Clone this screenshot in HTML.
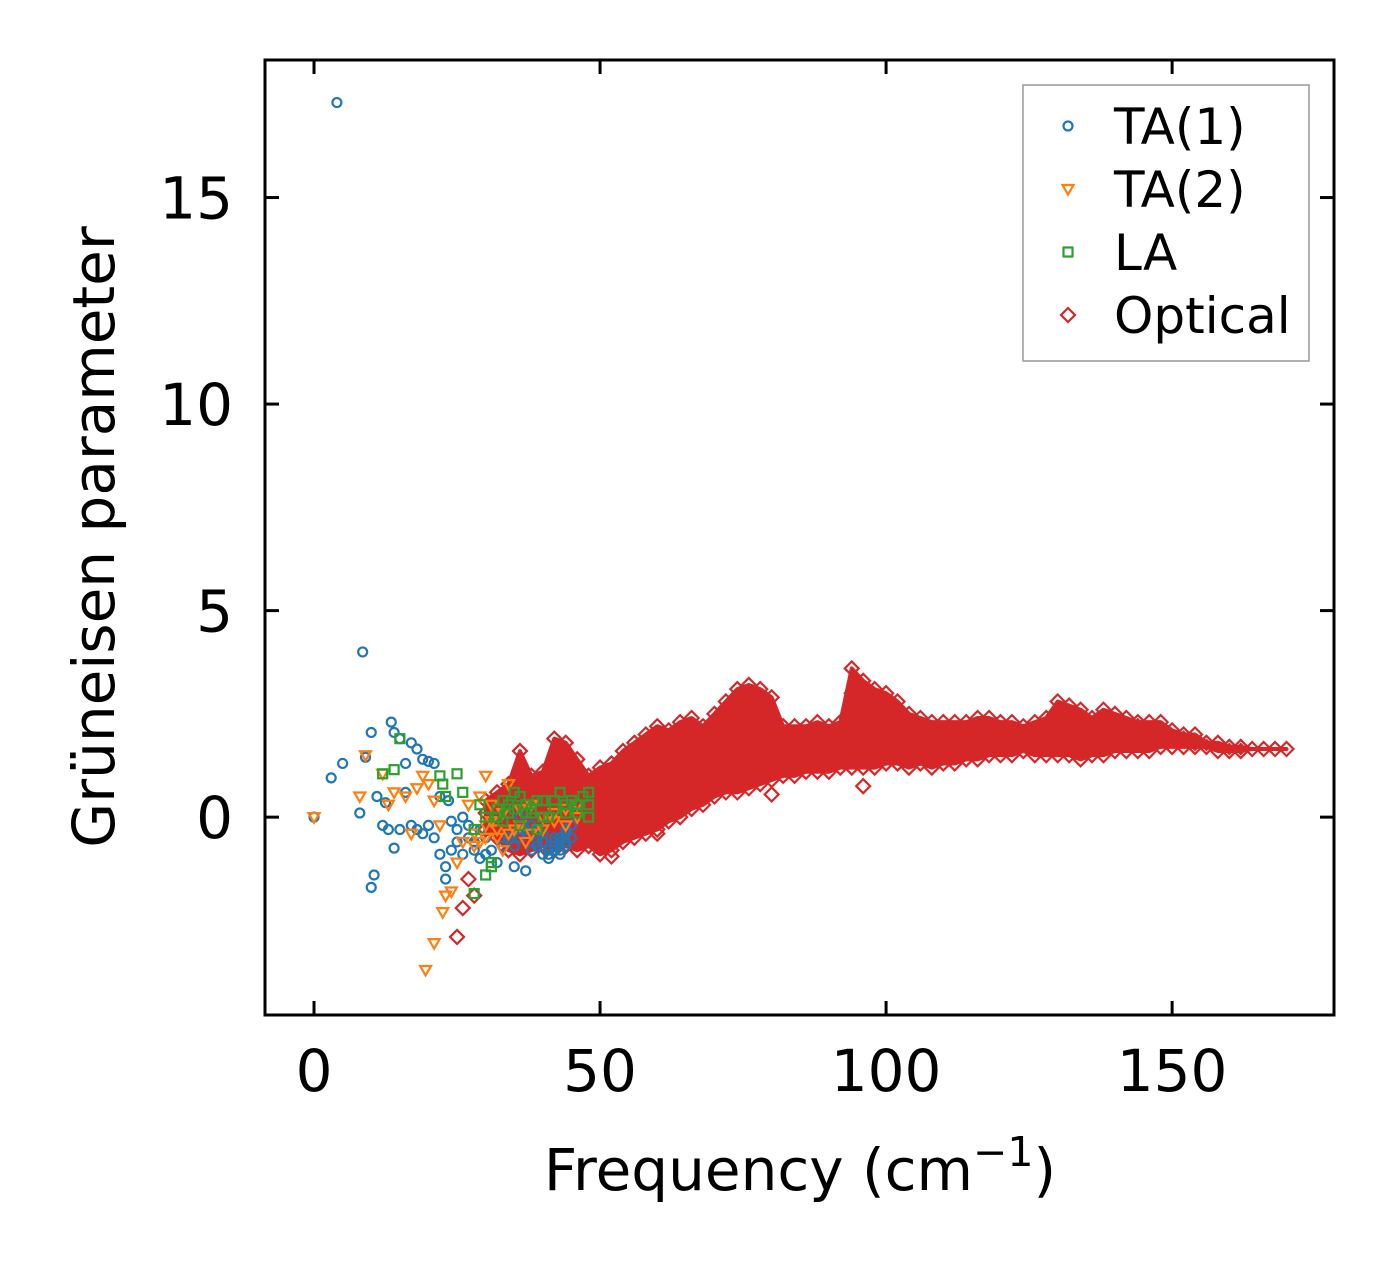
<!DOCTYPE html>
<html><head><meta charset="utf-8"><style>
html,body{margin:0;padding:0;background:#fff;}
svg{display:block;font-family:"DejaVu Sans","Liberation Sans",sans-serif;}
</style></head><body>
<svg id="chart" width="1394" height="1264" viewBox="0 0 1394 1264" xmlns="http://www.w3.org/2000/svg"></svg>
<script>
const xTicks=[0,50,100,150];
const yTicks=[0,5,10,15];
const ta1Freq=[0,4,3,5,8,8.5,9,10,10,10.5,11,12,12.5,13,13.5,14,14,15,15,16,16,17,17,18,18,19,19,20,20,21,21,22,22,23,23,23.5,24,24,25,25,26,26,27,28,29,30,32,33,34,35,36,37,38,39,40,40,41,42,42,43,43,44,44,45,36,38,27,28,29,30,31,39,40,41,42,43,44,41,42,43,44,45,34,35,36,37];
const ta1Gamma=[0,17.3,0.95,1.3,0.1,4.0,1.45,2.05,-1.7,-1.4,0.5,-0.2,0.35,-0.3,2.3,2.05,-0.75,1.9,-0.3,1.3,0.6,1.8,-0.2,1.65,-0.3,1.4,-0.4,1.35,-0.2,1.3,-0.5,0.5,-0.9,-1.2,-1.5,0.4,-0.1,-0.8,-0.3,-0.6,0,-0.9,-0.5,-0.8,-1.0,-0.9,-1.1,-0.7,-0.5,-1.2,-0.3,-1.3,-0.8,-0.6,-0.9,-0.4,-1.0,-0.8,-0.5,-0.6,-0.9,-0.3,-0.7,-0.2,0,-0.2,-0.2,-0.6,-0.3,-0.5,-0.8,-0.7,-0.6,-0.8,-0.7,-0.5,-0.4,-0.9,-0.6,-0.8,-0.6,-0.5,-0.4,-0.7,-0.5,-0.3];
const ta2Freq=[0,8,9,12,13,14,16,17,18,19,19.5,20,21,21,22,22.5,23,24,25,26,27,28,29,30,30,31,32,33,34,35,36,38,40,42,44,46,29,31,28,30,32,34,36,38,40,42,44,46,33,37];
const ta2Gamma=[0,0.5,1.5,1.05,0.3,0.6,0.5,-0.4,0.7,1.0,-3.7,0.8,-3.05,0.4,-0.2,-2.3,-1.9,-1.8,-1.1,-0.6,0.3,-0.4,0.5,1.0,-0.2,0.3,-0.5,0.1,0.8,-0.3,0.2,0.3,0,0.1,0.2,0.3,-0.6,-0.1,-0.7,-0.5,-0.3,-0.4,-0.2,-0.4,-0.3,-0.1,-0.2,0,-0.8,-0.6];
const laFreq=[12,14,15,22,22.5,23,25,26,28,28,29,30,30,31,32,33,34,35,36,37,38,40,41,42,43,44,45,46,47,48,48,39,32,34,36,38,40,42,44,46,48,31,33,35,37,39];
const laGamma=[1.05,1.15,1.9,1.0,0.8,0.5,1.05,0.6,-1.85,-0.3,0.3,-1.4,0,-1.2,0.2,0.4,0.1,0.6,-0.2,0.3,0.1,0.4,0,0.2,0.6,0.3,0.4,0.1,0.5,0.6,0,-0.3,0,0.3,0.5,0.2,0,0.4,0.1,0.3,0.3,-1.1,-0.1,0.2,0.1,0.4];
const opticalFreq=[30,32,34,36,38,40,42,44,46,48,50,52,54,56,58,60,62,64,66,68,70,72,74,76,78,80,82,84,86,88,90,92,94,96,98,100,102,104,106,108,110,112,114,116,118,120,122,124,126,128,130,132,134,136,138,140,142,144,146,148,150,152,154,156,158,160,162,164,166,168,170];
const opticalGamma=[[-0.3,0.1,0.4],[-0.5,0,0.6],[-0.8,-0.2,0.3,0.8],[-0.9,-0.3,0.3,0.9,1.6],[-0.8,-0.2,0.4,1.0],[-0.7,-0.1,0.5,1.1],[-0.8,-0.2,0.4,1.0,1.9],[-0.7,-0.1,0.5,1.1,1.8],[-0.8,-0.2,0.3,0.9,1.4],[-0.7,-0.1,0.5,1.0],[-0.9,-0.3,0.2,0.7,1.2],[-0.8,-0.2,0.3,0.8,1.3],[-0.6,0,0.5,1.0,1.6],[-0.5,0.1,0.6,1.1,1.8],[-0.4,0.2,0.7,1.2,2.0],[-0.3,0.3,0.8,1.4,2.2],[-0.1,0.4,0.9,1.5,2.1],[0,0.5,1.0,1.6,2.3],[0.2,0.7,1.2,1.8,2.4],[0.3,0.8,1.3,1.9,2.2],[0.5,1.0,1.5,2.0,2.5],[0.6,1.1,1.6,2.2,2.8],[0.6,1.1,1.7,2.4,3.1],[0.7,1.2,1.8,2.5,3.2],[0.8,1.3,1.9,2.5,3.1],[0.9,1.4,1.9,2.3,2.9],[1.0,1.4,1.8,2.2],[1.0,1.5,1.9,2.2],[1.1,1.5,1.9,2.2],[1.1,1.5,1.9,2.3],[1.1,1.5,1.9,2.2],[1.2,1.6,2.0,2.3],[1.2,1.6,2.0,2.5,3.0,3.6],[1.2,1.6,2.0,2.6,3.3],[1.2,1.6,2.0,2.5,3.1],[1.3,1.7,2.1,2.5,3.0],[1.3,1.7,2.1,2.8],[1.2,1.6,2.0,2.5],[1.3,1.7,2.1,2.4],[1.2,1.6,2.0,2.3],[1.3,1.7,2.1,2.3],[1.3,1.7,2.0,2.3],[1.4,1.8,2.1,2.3],[1.4,1.8,2.1,2.4],[1.5,1.8,2.1,2.4],[1.5,1.8,2.1,2.3],[1.5,1.8,2.1,2.3],[1.6,1.8,2.0,2.2],[1.5,1.8,2.1,2.3],[1.5,1.8,2.1,2.4],[1.5,1.8,2.1,2.5,2.8],[1.5,1.8,2.1,2.4,2.7],[1.4,1.8,2.1,2.4,2.6],[1.5,1.8,2.1,2.4],[1.5,1.8,2.1,2.4,2.6],[1.6,1.9,2.2,2.5],[1.6,1.9,2.2,2.4],[1.6,1.9,2.2,2.3],[1.6,1.9,2.1,2.3],[1.7,1.9,2.1,2.3],[1.7,1.9,2.1],[1.7,1.9,2.0],[1.7,1.8,2.0],[1.7,1.8],[1.6,1.8],[1.6,1.7],[1.6,1.7],[1.65],[1.65],[1.65],[1.65]];
const opticalOutFreq=[25,26,27,28,96,80,60,52];
const opticalOutGamma=[-2.9,-2.2,-1.5,-1.9,0.75,0.55,-0.4,-0.95];

const NS='http://www.w3.org/2000/svg';
const svg=document.getElementById('chart');
const L=265,R=1334,T=60,B=1015;
const xMin=-8.57,xMax=178.3,yMin=-4.79,yMax=18.33;
const sx=v=>L+(v-xMin)/(xMax-xMin)*(R-L);
const sy=v=>B-(v-yMin)/(yMax-yMin)*(B-T);
function mk(tag,attrs,parent){const e=document.createElementNS(NS,tag);for(const k in attrs)e.setAttribute(k,attrs[k]);(parent||svg).appendChild(e);return e;}
function marker(kind,x,y,color,g){
  let e;
  if(kind==='circle')e=mk('circle',{cx:x,cy:y,r:4.5,fill:'none',stroke:color,'stroke-width':2.2},g);
  else if(kind==='tri')e=mk('polygon',{points:`${x-5.5},${y-4} ${x+5.5},${y-4} ${x},${y+5.5}`,fill:'none',stroke:color,'stroke-width':2.2},g);
  else if(kind==='sq')e=mk('rect',{x:x-4.5,y:y-4.5,width:9,height:9,fill:'none',stroke:color,'stroke-width':2.2},g);
  else e=mk('polygon',{points:`${x},${y-7} ${x+7},${y} ${x},${y+7} ${x-7},${y}`,fill:'none',stroke:color,'stroke-width':2.2},g);
  return e;
}
const clipEl=mk('clipPath',{id:'plotclip'});mk('rect',{x:L,y:T,width:R-L,height:B-T},clipEl);

function series(name,kind,color,xs,ys){
  const g=mk('g',{'clip-path':'url(#plotclip)'});
  
  
  for(let i=0;i<xs.length;i++){
    const m=marker(kind,sx(xs[i]),sy(ys[i]),color,g);
    
    
  }
}

const og=mk('g',{'clip-path':'url(#plotclip)'});


const envTop=[],envBot=[];
for(let i=0;i<opticalFreq.length;i++){
  const ys=opticalGamma[i];
  envTop.push(sx(opticalFreq[i])+','+sy(Math.max(...ys)));
  envBot.unshift(sx(opticalFreq[i])+','+sy(Math.min(...ys)));
}
const band=mk('polygon',{points:envTop.concat(envBot).join(' '),fill:'#d62728',stroke:'#d62728','stroke-width':4,'stroke-linejoin':'round'},og);


for(let i=0;i<opticalFreq.length;i++){
  for(const y of opticalGamma[i]){
    const m=marker('dia',sx(opticalFreq[i]),sy(y),'#d62728',og);
    
    
  }
}
for(let i=0;i<opticalOutFreq.length;i++){
  const m=marker('dia',sx(opticalOutFreq[i]),sy(opticalOutGamma[i]),'#d62728',og);
  
  
}

series('ta1-series','circle','#1f77b4',ta1Freq,ta1Gamma);
series('ta2-series','tri','#ff7f0e',ta2Freq,ta2Gamma);
series('la-series','sq','#2ca02c',laFreq,laGamma);

const frame=mk('rect',{x:L,y:T,width:R-L,height:B-T,fill:'none',stroke:'#000','stroke-width':3});


for(const t of xTicks){
  const x=sx(t);
  mk('line',{x1:x,y1:B,x2:x,y2:B-14,stroke:'#000','stroke-width':3});
  mk('line',{x1:x,y1:T,x2:x,y2:T+14,stroke:'#000','stroke-width':3});
  const tx=mk('text',{x:x,y:B+76,'font-size':58,'text-anchor':'middle',fill:'#000'});
  tx.textContent=t;
  
  
}
for(const t of yTicks){
  const y=sy(t);
  mk('line',{x1:L,y1:y,x2:L+14,y2:y,stroke:'#000','stroke-width':3});
  mk('line',{x1:R,y1:y,x2:R-14,y2:y,stroke:'#000','stroke-width':3});
  const tx=mk('text',{x:L-32,y:y+21,'font-size':58,'text-anchor':'end',fill:'#000'});
  tx.textContent=t;
  
  
}
const xl=mk('text',{x:800,y:1190,'font-size':58,'text-anchor':'middle',fill:'#000'});
const t1=mk('tspan',{},xl);t1.textContent='Frequency (cm';
const t2=mk('tspan',{dy:-24,'font-size':41},xl);t2.textContent='−1';
const t3=mk('tspan',{dy:24},xl);t3.textContent=')';


const yl=mk('text',{x:0,y:0,'font-size':58,'text-anchor':'middle',fill:'#000',transform:'translate(114,537) rotate(-90)'});
yl.textContent='Grüneisen parameter';



const lg=mk('g',{});


mk('rect',{x:1023,y:85,width:286,height:276,fill:'#fff',stroke:'#999','stroke-width':1.5},lg);
const entries=[['TA(1)','circle','#1f77b4'],['TA(2)','tri','#ff7f0e'],['LA','sq','#2ca02c'],['Optical','dia','#d62728']];
entries.forEach((e,i)=>{
  const y=126+i*63;
  const eg=mk('g',{},lg);
  
  
  marker(e[1],1068,y,e[2],eg);
  const t=mk('text',{x:1114,y:y+18,'font-size':50,fill:'#000'},eg);
  t.textContent=e[0];
});
</script>
</body></html>
